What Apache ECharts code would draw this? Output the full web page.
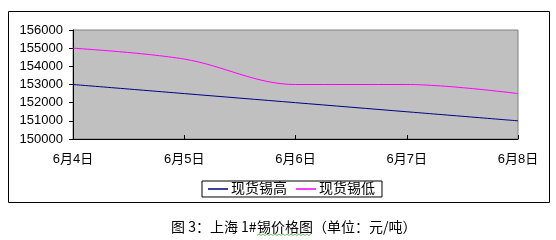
<!DOCTYPE html>
<html><head><meta charset="utf-8">
<script src="https://cdn.jsdelivr.net/npm/echarts@6/dist/echarts.min.js"></script>
<style>html,body{margin:0;padding:0;background:#fff}#c{width:556px;height:240px}</style>
</head><body><div id="c"></div>
<script>
var categories = ['6月4日','6月5日','6月6日','6月7日','6月8日'];
var seriesNames = ['现货锡高','现货锡低'];
var highValues = [153000, 152500, 152000, 151500, 151000];
var lowValues = [155000, 154400, 153000, 153000, 152500];
var yTicks = {min:150000, max:156000, interval:1000};
var captionParts = ['图 3：上海 1#', '锡价格图（单位：元/吨）'];

var FONT = '"Liberation Sans", "Noto Sans CJK SC", sans-serif';
var CAPFONT = '14px "Noto Sans CJK SC", sans-serif';
var squiggle = [];
for (var sx = 257; sx <= 312; sx += 2) squiggle.push([sx, ((sx - 257) / 2) % 2 === 0 ? 235.5 : 234]);

var chart = echarts.init(document.getElementById('c'), null, {renderer:'canvas'});
chart.setOption({
  animation:false,
  backgroundColor:'#fff',
  grid:{left:73, top:30, width:445, height:109, show:true, backgroundColor:'#c0c0c0', borderColor:'#808080', borderWidth:1},
  xAxis:{type:'category', data:categories, boundaryGap:false,
    axisLine:{lineStyle:{color:'#000', width:1}},
    axisTick:{inside:true, length:4, lineStyle:{color:'#000'}},
    axisLabel:{color:'#000', fontSize:13, fontFamily:FONT, margin:14}},
  yAxis:{type:'value', min:yTicks.min, max:yTicks.max, interval:yTicks.interval,
    axisLine:{show:true, lineStyle:{color:'#000', width:1}},
    axisTick:{show:true, length:4, lineStyle:{color:'#000'}},
    splitLine:{show:false},
    axisLabel:{color:'#000', fontSize:13, fontFamily:FONT, margin:10, formatter:function(v){return String(v);}}},
  legend:{left:202, top:181, data:seriesNames, orient:'horizontal',
    borderColor:'#000', borderWidth:1, padding:[1,7,1,6], itemGap:9,
    itemWidth:20, itemHeight:1.5, icon:'rect',
    textStyle:{color:'#000', fontSize:14, fontFamily:FONT, padding:[0,0,0,-2]}},
  series:[
    {name:seriesNames[0], type:'line', data:highValues, smooth:0.3, showSymbol:false, symbol:'none',
     lineStyle:{color:'#000080', width:1}, itemStyle:{color:'#000080'}},
    {name:seriesNames[1], type:'line', data:lowValues, smooth:0.35, showSymbol:false, symbol:'none',
     lineStyle:{color:'#ff00ff', width:1}, itemStyle:{color:'#ff00ff'}}
  ],
  graphic:[
    {type:'rect', shape:{x:8.5, y:11.5, width:541, height:191}, style:{fill:null, stroke:'#000', lineWidth:1}, silent:true, z:-1},
    {type:'text', left:171, top:220, style:{text:captionParts[0], fill:'#000', font:CAPFONT}},
    {type:'text', left:257, top:220, style:{text:captionParts[1], fill:'#000', font:CAPFONT}},
    {type:'polyline', shape:{points:squiggle}, style:{stroke:'#4caf50', lineWidth:0.8, fill:null}}
  ]
});
</script></body></html>
